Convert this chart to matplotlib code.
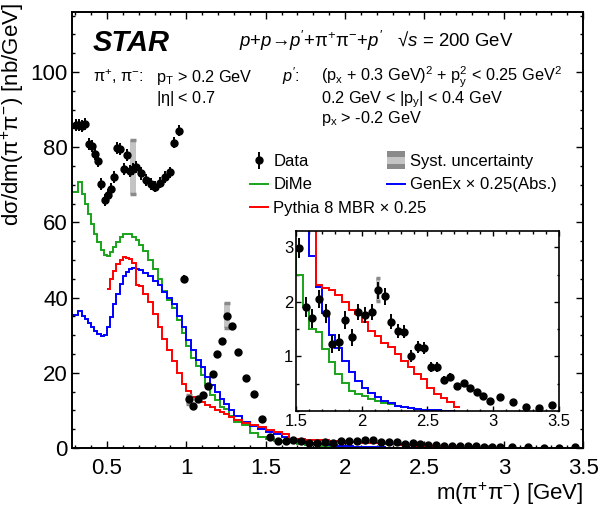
import numpy as np
import matplotlib
matplotlib.use("Agg")
import matplotlib.pyplot as plt
from matplotlib.patches import Rectangle
from matplotlib.lines import Line2D
from matplotlib.legend_handler import HandlerBase
from matplotlib.ticker import MultipleLocator, FixedLocator

plt.rcParams['font.family'] = ['Liberation Sans', 'DejaVu Sans']
plt.rcParams['mathtext.fontset'] = 'custom'
plt.rcParams['mathtext.rm'] = 'Liberation Sans'
plt.rcParams['mathtext.it'] = 'Liberation Sans:italic'
plt.rcParams['mathtext.bf'] = 'Liberation Sans:bold'
plt.rcParams['mathtext.default'] = 'regular'

# ---- data ----
data_x = [0.305, 0.325, 0.345, 0.365, 0.385, 0.405, 0.425, 0.445, 0.465, 0.485,
          0.505, 0.525, 0.545, 0.565, 0.585, 0.605, 0.625, 0.645, 0.665, 0.685,
          0.715, 0.745, 0.775, 0.805, 0.835, 0.865, 0.895, 0.925, 0.955, 0.985,
          1.015, 1.045, 1.075, 1.105, 1.135, 1.165, 1.195, 1.225, 1.255, 1.285,
          1.325, 1.375, 1.425, 1.475, 1.525, 1.575, 1.625, 1.675, 1.725, 1.775,
          1.825, 1.875, 1.925, 1.975, 2.025, 2.075, 2.125, 2.175, 2.225, 2.275,
          2.325, 2.375, 2.425, 2.475, 2.525, 2.575, 2.625, 2.675, 2.725, 2.775,
          2.825, 2.875, 2.925, 2.975, 3.05, 3.15, 3.25, 3.35, 3.45]
data_y = [85.9, 85.9, 85.7, 86.1, 80.8, 80.2, 78.2, 76.2, 70.2, 66.0,
          67.3, 68.9, 72.0, 79.9, 79.5, 74.2, 78.0, 73.7, 74.2, 74.8,
          73.0, 71.3, 70.2, 69.5, 70.6, 72.1, 73.3, 81.2, 84.4, 45.0,
          12.9, 11.2, 13.0, 14.2, 16.5, 19.6, 24.9, 28.5, 35.0, 32.4,
          25.4, 18.6, 14.4, 7.7, 2.99, 1.91, 1.70, 2.05, 1.79, 1.23,
          1.26, 1.67, 1.35, 1.81, 1.76, 1.81, 2.21, 2.10, 1.64, 1.47,
          1.45, 1.01, 1.17, 1.16, 0.80, 0.80, 0.57, 0.62, 0.46, 0.51,
          0.43, 0.35, 0.28, 0.19, 0.25, 0.16, 0.08, 0.06, 0.11]
data_err = [1.6, 1.6, 1.6, 1.6, 1.6, 1.6, 1.6, 1.6, 1.6, 1.6,
            1.6, 1.6, 1.6, 1.6, 1.6, 1.6, 1.6, 1.6, 1.6, 1.6,
            1.6, 1.5, 1.5, 1.5, 1.5, 1.5, 1.5, 1.5, 1.5, 1.0,
            0.5, 0.5, 0.5, 0.5, 0.5, 0.5, 0.5, 0.5, 0.5, 0.5,
            0.4, 0.4, 0.4, 0.4, 0.18, 0.18, 0.17, 0.17, 0.17, 0.16,
            0.16, 0.16, 0.15, 0.15, 0.15, 0.15, 0.15, 0.15, 0.13, 0.13,
            0.12, 0.11, 0.11, 0.11, 0.09, 0.09, 0.07, 0.07, 0.06, 0.06,
            0.05, 0.04, 0.04, 0.03, 0.03, 0.02, 0.02, 0.02, 0.02]

# systematic uncertainty boxes
syst_x = [0.665, 1.015, 1.255, 2.125]
syst_lo = [67.5, 11.7, 31.9, 2.01]
syst_hi = [81.9, 14.0, 38.5, 2.43]

# MC histogram bin edges
mc_edges = [0.28, 0.30, 0.32, 0.34, 0.36, 0.38, 0.40, 0.42, 0.44, 0.46, 0.48,
            0.50, 0.52, 0.54, 0.56, 0.58, 0.60, 0.62, 0.64, 0.66, 0.68, 0.70,
            0.73, 0.76, 0.79, 0.82, 0.85, 0.88, 0.91, 0.94, 0.97, 1.00,
            1.03, 1.06, 1.09, 1.12, 1.15, 1.18, 1.21, 1.24, 1.27, 1.30,
            1.35, 1.40, 1.45, 1.50, 1.55, 1.60, 1.65, 1.70, 1.75, 1.80,
            1.85, 1.90, 1.95, 2.00, 2.05, 2.10, 2.15, 2.20, 2.25, 2.30,
            2.35, 2.40, 2.45, 2.50, 2.55, 2.60, 2.65, 2.70, 2.75]

dime = [68.0, 68.0, 70.8, 67.6, 64.9, 62.2, 59.6, 57.0, 54.8, 52.6, 51.2,
        51.0, 52.0, 53.5, 54.8, 56.0, 56.8, 57.0, 56.9, 56.2, 55.3,
        54.0, 52.3, 50.0, 47.5, 44.8, 41.8, 39.3, 37.2, 34.0, 30.5,
        27.0, 24.0, 21.8, 19.5, 16.7, 14.2, 12.7, 11.0, 10.3, 8.6,
        7.0, 6.1, 4.0, 3.0, 2.49, 1.91, 1.50, 1.45, 1.13, 0.89,
        0.67, 0.51, 0.37, 0.32, 0.28, 0.22, 0.19, 0.15, 0.13, 0.10,
        0.08, 0.05, 0.03, 0.02, 0.01, 0.01]
genex = [35.3, 35.3, 36.4, 35.2, 34.2, 33.2, 32.2, 31.2, 30.4, 29.9, 30.0,
         32.2, 34.8, 38.3, 41.0, 43.6, 45.6, 46.9, 47.6, 47.9, 47.6,
         47.2, 46.6, 45.7, 44.5, 43.3, 41.5, 40.0, 38.2, 35.2, 32.2,
         28.8, 26.0, 23.5, 21.4, 18.9, 16.8, 15.0, 13.0, 11.6, 10.2,
         8.4, 7.0, 5.8, 5.0, 4.3, 3.6, 2.84, 2.27, 1.79, 1.40,
         1.15, 0.92, 0.72, 0.55, 0.42, 0.33, 0.25, 0.19, 0.14, 0.10,
         0.07, 0.05, 0.035, 0.025, 0.015, 0.01, 0.005, 0.003]
pythia_start = 0.50
pythia = [42.4, 45.0, 47.0, 48.8, 50.0, 50.7, 50.6, 50.2, 49.2, 43.3,
          43.0, 41.0, 38.8, 35.5, 32.2, 29.0, 26.0, 23.0, 19.8, 17.0,
          15.2, 13.6, 12.8, 12.2, 11.5, 10.8, 10.1, 9.5, 8.9, 8.3,
          7.5, 6.6, 6.0, 5.5, 4.8, 4.3, 3.8, 2.31, 2.25, 2.21,
          2.12, 1.99, 1.85, 1.78, 1.64, 1.47, 1.37, 1.25, 1.17, 1.04,
          0.92, 0.80, 0.67, 0.58, 0.42, 0.32, 0.24, 0.16, 0.07]

c_green = '#1aa31a'
c_blue = '#0000ff'
c_red = '#ff0000'
c_syst_light = '#c4c4c4'
c_syst_dark = '#8a8a8a'

edges = np.array(mc_edges)
i0 = int(np.argmin(np.abs(edges - pythia_start)))
curves = [
    (dime, edges[:len(dime) + 1], c_green),
    (genex, edges[:len(genex) + 1], c_blue),
    (pythia, edges[i0:i0 + len(pythia) + 1], c_red),
]


def draw(a, boxw):
    for vals, e, col in curves:
        a.stairs(vals, e, baseline=None, color=col, lw=1.4, zorder=2)
    for x, lo, hi in zip(syst_x, syst_lo, syst_hi):
        a.add_patch(Rectangle((x - boxw / 2, lo), boxw, hi - lo,
                              fc=c_syst_light, ec='none', zorder=3))
        a.hlines([lo, hi], x - boxw / 2, x + boxw / 2, color=c_syst_dark,
                 lw=2.5, zorder=3)
    eb = a.errorbar(data_x, data_y, yerr=data_err, fmt='o', color='k', ms=5,
                    elinewidth=1.4, capsize=0, zorder=4)
    return eb


def style(a, size, maj, mino, lw):
    a.tick_params(which='both', direction='in', top=True, right=True,
                  labelsize=size, width=1.0)
    a.tick_params(which='major', length=maj)
    a.tick_params(which='minor', length=mino)
    for s in a.spines.values():
        s.set_linewidth(lw)


class SystHandler(HandlerBase):
    def create_artists(self, legend, orig_handle, xdescent, ydescent,
                       width, height, fontsize, trans):
        x0 = -xdescent
        y0 = -ydescent - 0.25 * height
        h = 1.5 * height
        parts = [(0.0, 0.3, c_syst_dark), (0.3, 0.4, c_syst_light),
                 (0.7, 0.3, c_syst_dark)]
        return [Rectangle((x0, y0 + f * h), width, hh * h, fc=c, ec='none',
                          transform=trans) for f, hh, c in parts]


fig = plt.figure(figsize=(6, 5.16), dpi=100)
ax = fig.add_axes([0.12, 0.132, 0.852, 0.845])
eb = draw(ax, 0.036)
ax.set_xlim(0.28, 3.5)
ax.set_ylim(0, 116)
ax.xaxis.set_major_locator(MultipleLocator(0.5))
ax.xaxis.set_minor_locator(MultipleLocator(0.1))
ax.yaxis.set_major_locator(MultipleLocator(20))
ax.yaxis.set_minor_locator(MultipleLocator(5))
style(ax, 16, 4.7, 2.4, 1.4)
ax.tick_params(axis='x', which='both', pad=7)
ax.tick_params(axis='y', which='both', pad=3)
ax.set_xticks([0.5, 1, 1.5, 2, 2.5, 3, 3.5], ['0.5', '1', '1.5', '2', '2.5', '3', '3.5'])

ax.set_xlabel(r'm($\pi^{+}\pi^{-}$) [GeV]', fontsize=16, loc='right')
ax.xaxis.set_label_coords(1.0, -0.075)
# y title placed like ROOT: flush with the top of the frame
fig.text(0.021, 1 - 3 / 516, r'd$\sigma$/dm($\pi^{+}\pi^{-}$) [nb/GeV]',
         rotation=90, ha='center', va='top', fontsize=16)

# header texts
ax.text(0.041, 0.9275, 'STAR', transform=ax.transAxes, fontsize=21,
        fontweight='bold', style='italic', va='center')
ax.text(0.327, 0.9204,
        r"$\mathit{p}$+$\mathit{p}$→$\mathit{p'}$+$\pi^{+}\pi^{-}$+$\mathit{p'}$   √$\mathit{s}$ = 200 GeV",
        transform=ax.transAxes, fontsize=13.4, va='baseline')
cut_size = 11.7
row_y = [0.840, 0.791, 0.746]
ax.text(0.041, row_y[0], r'$\pi^{+}$, $\pi^{-}$:', transform=ax.transAxes,
        fontsize=cut_size, va='baseline')
ax.text(0.164, row_y[0], r'p$_{T}$ > 0.2 GeV', transform=ax.transAxes,
        fontsize=cut_size, va='baseline')
ax.text(0.164, row_y[1], r'|$\eta$| < 0.7', transform=ax.transAxes,
        fontsize=cut_size, va='baseline')
ax.text(0.411, row_y[0], r"$\mathit{p'}$:", transform=ax.transAxes,
        fontsize=cut_size, va='baseline')
ax.text(0.487, row_y[0], r'(p$_{x}$ + 0.3 GeV)$^{2}$ + p$_{y}^{2}$ < 0.25 GeV$^{2}$',
        transform=ax.transAxes, fontsize=cut_size, va='baseline')
ax.text(0.487, row_y[1], r'0.2 GeV < |p$_{y}$| < 0.4 GeV', transform=ax.transAxes,
        fontsize=cut_size, va='baseline')
ax.text(0.487, row_y[2], r'p$_{x}$ > -0.2 GeV', transform=ax.transAxes,
        fontsize=cut_size, va='baseline')

# legends
h_dime = Line2D([], [], color=c_green, lw=1.4)
h_genex = Line2D([], [], color=c_blue, lw=1.4)
h_pythia = Line2D([], [], color=c_red, lw=1.4)
h_syst = Rectangle((0, 0), 1, 1)
leg_kw = dict(loc='upper left', frameon=False, fontsize=12, handlelength=1.1,
              handletextpad=0.3, labelspacing=0.5, borderpad=0, borderaxespad=0)
leg1 = ax.legend([eb, h_dime, h_pythia],
                 ['Data', 'DiMe', 'Pythia 8 MBR × 0.25'],
                 bbox_to_anchor=(0.348, 0.674), **leg_kw)
ax.add_artist(leg1)
ax.legend([h_syst, h_genex], ['Syst. uncertainty', 'GenEx × 0.25(Abs.)'],
          bbox_to_anchor=(0.616, 0.674), handler_map={Rectangle: SystHandler()},
          **leg_kw)

# inset
axin = fig.add_axes([0.4933, 0.2035, 0.438, 0.3488])
axin.set_zorder(5)
axin.set_facecolor('white')
draw(axin, 0.036)
axin.set_xlim(1.5, 3.5)
axin.set_ylim(0, 3.3)
axin.xaxis.set_major_locator(MultipleLocator(0.5))
axin.xaxis.set_minor_locator(MultipleLocator(0.1))
axin.yaxis.set_major_locator(FixedLocator([1, 2, 3]))
axin.yaxis.set_minor_locator(MultipleLocator(0.5))
style(axin, 12, 3.6, 1.8, 1.2)
axin.tick_params(axis='both', which='both', pad=2)
axin.set_xticks([1.5, 2, 2.5, 3, 3.5], ['1.5', '2', '2.5', '3', '3.5'])

fig.savefig('out.png', dpi=100)
